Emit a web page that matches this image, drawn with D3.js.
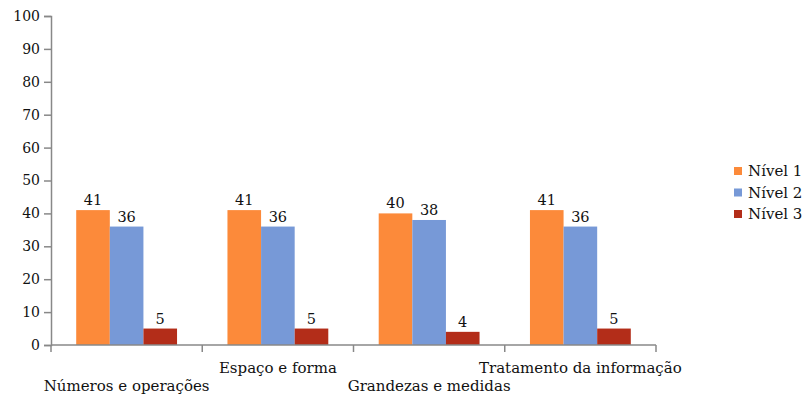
<!DOCTYPE html>
<html>
<head>
<meta charset="utf-8">
<script src="https://cdn.jsdelivr.net/npm/d3@7"></script>
<style>
  html, body { margin: 0; padding: 0; background: #fff; }
  svg text { font-family: "DejaVu Serif", "Liberation Serif", serif; fill: #111; }
</style>
</head>
<body>
<svg id="chart" width="805" height="397"></svg>
<script>
// Percent of students at each proficiency level, by content block
const categories = ["Números e operações", "Espaço e forma", "Grandezas e medidas", "Tratamento da informação"];
const seriesNames = ["Nível 1", "Nível 2", "Nível 3"];
const nivel1 = [41, 41, 40, 41];
const nivel2 = [36, 36, 38, 36];
const nivel3 = [5, 5, 4, 5];
const yTicks = [0, 10, 20, 30, 40, 50, 60, 70, 80, 90, 100];
const colors = ["#FC8A3A", "#7799D7", "#B32D19"];

const series = [nivel1, nivel2, nivel3];
const svg = d3.select("#chart");

const plot = { left: 51, right: 656, top: 16, bottom: 345 };

const x = d3.scaleBand().domain(categories).range([plot.left, plot.right]).padding(0);
const inner = d3.scaleBand().domain(seriesNames)
  .range([0, x.bandwidth()]).paddingInner(0).paddingOuter(0.75);
const y = d3.scaleLinear().domain([0, 100]).range([plot.bottom, plot.top]);

// Bars with value labels
categories.forEach((cat, ci) => {
  const g = svg.append("g").attr("transform", `translate(${x(cat)},0)`);
  seriesNames.forEach((s, si) => {
    const v = series[si][ci];
    g.append("rect")
      .attr("x", inner(s))
      .attr("y", y(v))
      .attr("width", inner.bandwidth())
      .attr("height", y(0) - y(v))
      .attr("fill", colors[si]);
    g.append("text")
      .attr("x", inner(s) + inner.bandwidth() / 2)
      .attr("y", y(v) - 5)
      .attr("text-anchor", "middle")
      .attr("font-size", 14.5)
      .text(v);
  });
});

// Y axis
const yAxis = d3.axisLeft(y).tickValues(yTicks).tickSize(7).tickPadding(4);
const gy = svg.append("g").attr("transform", `translate(${plot.left},0)`).call(yAxis);
gy.select(".domain").attr("stroke", "#888").attr("stroke-width", 1.5);
gy.selectAll(".tick line").attr("stroke", "#888").attr("stroke-width", 1.5);
gy.selectAll(".tick text").attr("font-size", 14).attr("font-family", "DejaVu Serif, serif").attr("fill", "#111");

// X axis: boundaries between categories
const bounds = categories.map(c => x(c)).concat([plot.right]);
svg.append("line")
  .attr("x1", plot.left).attr("x2", plot.right)
  .attr("y1", plot.bottom).attr("y2", plot.bottom)
  .attr("stroke", "#888").attr("stroke-width", 1.5);
svg.selectAll(".xtick").data(bounds).enter().append("line")
  .attr("x1", d => d).attr("x2", d => d)
  .attr("y1", plot.bottom).attr("y2", plot.bottom + 7)
  .attr("stroke", "#888").attr("stroke-width", 1.5);

// Category labels, staggered on two rows
svg.selectAll(".xlabel").data(categories).enter().append("text")
  .attr("x", d => x(d) + x.bandwidth() / 2)
  .attr("y", (d, i) => i % 2 === 0 ? 391 : 373)
  .attr("text-anchor", "middle")
  .attr("font-size", 15)
  .text(d => d);

// Legend
const legend = svg.append("g").attr("transform", "translate(734,171)");
seriesNames.forEach((s, i) => {
  const row = legend.append("g").attr("transform", `translate(0,${i * 21.5})`);
  row.append("rect").attr("x", 0).attr("y", -4).attr("width", 8).attr("height", 8).attr("fill", colors[i]);
  row.append("text").attr("x", 14).attr("y", 5).attr("font-size", 15).text(s);
});
</script>
</body>
</html>
